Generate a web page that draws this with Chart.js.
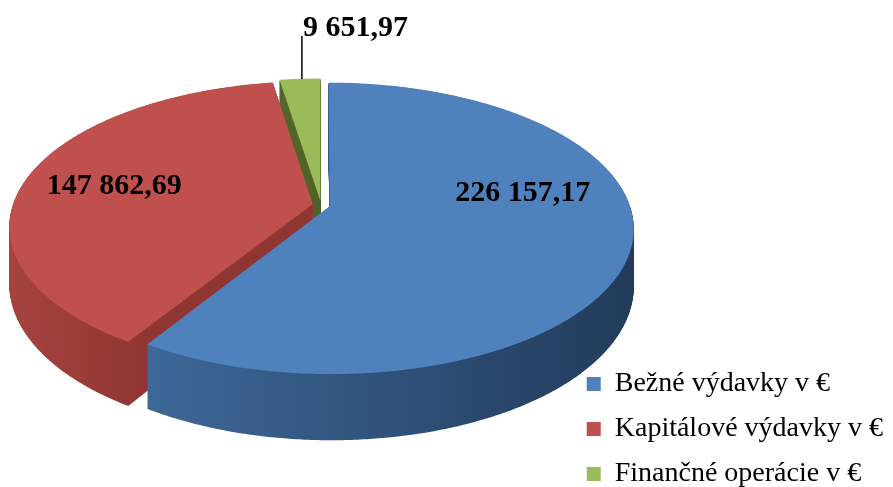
<!DOCTYPE html>
<html>
<head>
<meta charset="utf-8">
<script src="https://cdn.jsdelivr.net/npm/chart.js@4.4.0/dist/chart.umd.min.js"></script>
<style>
  html, body { margin: 0; padding: 0; background: #fff; }
  #wrap { width: 893px; height: 487px; }
</style>
</head>
<body>
<div id="wrap"><canvas id="pieChart" width="893" height="487"></canvas></div>
<script>
// --- data ---
const categories = ["Bežné výdavky v €", "Kapitálové výdavky v €", "Finančné operácie v €"];
const amounts = [226157.17, 147862.69, 9651.97];

// --- look ---
const topColors = ['#4f81bd', '#c0504d', '#9bbb59'];
const sideStops = [
    [[0.15, '#3e6999'], [0.45, '#2f5079'], [0.72, '#213a58']],
    [[0.0, '#a8443f'], [0.16, '#8f3633']],
    [[0.3, '#56692b'], [0.4, '#4a5c24']]
];
const explode = [0.03, 0.028, 0.03];
const CX = 321, CY = 205, RXB = 300, RYB = 142, DEP = 56, PERSP = 0.152, LAYERS = 90;
const labelRadius = [0.62, 0.62, 1.0];
const labelNudge = [[9, -38], [-20, -1], [0, 0]];

function fmt(n) {
    let parts = n.toFixed(2).split('.');
    return parts[0].replace(/\B(?=(\d{3})+(?!\d))/g, ' ') + ',' + parts[1];
}

function proj(u, v, t) {
    let d = 1 - PERSP * v;
    return [CX + RXB * u / d, CY + (RYB * v + DEP * t) / d];
}

function outline(arc, i) {
    let a = arc.startAngle, b = arc.endAngle, mid = (a + b) / 2;
    let ou = Math.cos(mid) * explode[i], ov = Math.sin(mid) * explode[i];
    let pts = [[ou, ov]];
    let n = Math.max(2, Math.ceil((b - a) / (Math.PI / 360)));
    for (let k = 0; k <= n; k++) {
        let ang = a + (b - a) * k / n;
        pts.push([ou + Math.cos(ang), ov + Math.sin(ang)]);
    }
    return pts;
}

function fillShape(ctx, pts, t, style) {
    ctx.beginPath();
    pts.forEach(([u, v], k) => {
        let [x, y] = proj(u, v, t);
        if (k) ctx.lineTo(x, y); else ctx.moveTo(x, y);
    });
    ctx.closePath();
    ctx.fillStyle = style;
    ctx.fill();
}

const pie3d = {
    id: 'pie3d',
    beforeDatasetsDraw(chart) {
        const ctx = chart.ctx;
        const arcs = chart.getDatasetMeta(0).data;
        const shapes = arcs.map((arc, i) => outline(arc, i));
        const sides = sideStops.map(stops => {
            let g = ctx.createLinearGradient(0, 0, chart.width, 0);
            stops.forEach(s => g.addColorStop(s[0], s[1]));
            return g;
        });
        ctx.save();
        for (let s = LAYERS; s >= 1; s--) {
            shapes.forEach((pts, i) => fillShape(ctx, pts, s / LAYERS, sides[i]));
        }
        shapes.forEach((pts, i) => fillShape(ctx, pts, 0, topColors[i]));
        ctx.restore();
        return false;
    },
    afterDraw(chart) {
        const ctx = chart.ctx;
        const arcs = chart.getDatasetMeta(0).data;
        ctx.save();
        ctx.font = 'bold 30px "Liberation Serif"';
        ctx.fillStyle = '#000';
        arcs.forEach((arc, i) => {
            let mid = (arc.startAngle + arc.endAngle) / 2;
            let u = Math.cos(mid) * (labelRadius[i] + explode[i]);
            let v = Math.sin(mid) * (labelRadius[i] + explode[i]);
            let [x, y] = proj(u, v, 0);
            x += labelNudge[i][0];
            y += labelNudge[i][1];
            let txt = fmt(amounts[i]);
            if (labelRadius[i] >= 1) {
                // outside label with leader line
                ctx.strokeStyle = '#000';
                ctx.lineWidth = 1.5;
                ctx.beginPath();
                ctx.moveTo(x + 2, y);
                ctx.lineTo(x + 2, y - 43);
                ctx.stroke();
                ctx.textAlign = 'left';
                ctx.textBaseline = 'alphabetic';
                ctx.fillText(txt, x + 3, y - 43);
            } else {
                ctx.textAlign = 'center';
                ctx.textBaseline = 'middle';
                ctx.fillText(txt, x, y);
            }
        });
        ctx.restore();
    }
};

new Chart(document.getElementById('pieChart').getContext('2d'), {
    type: 'pie',
    data: {
        labels: categories,
        datasets: [{
            data: amounts,
            backgroundColor: topColors,
            borderWidth: 0
        }]
    },
    options: {
        responsive: false,
        animation: false,
        layout: {
            padding: { bottom: -18, right: 0 }
        },
        plugins: {
            legend: {
                position: 'right',
                align: 'end',
                labels: {
                    boxWidth: 14,
                    boxHeight: 14,
                    padding: 17,
                    color: '#000',
                    font: { family: 'Liberation Serif', size: 28 }
                }
            },
            tooltip: { enabled: false }
        }
    },
    plugins: [pie3d]
});
</script>
</body>
</html>
